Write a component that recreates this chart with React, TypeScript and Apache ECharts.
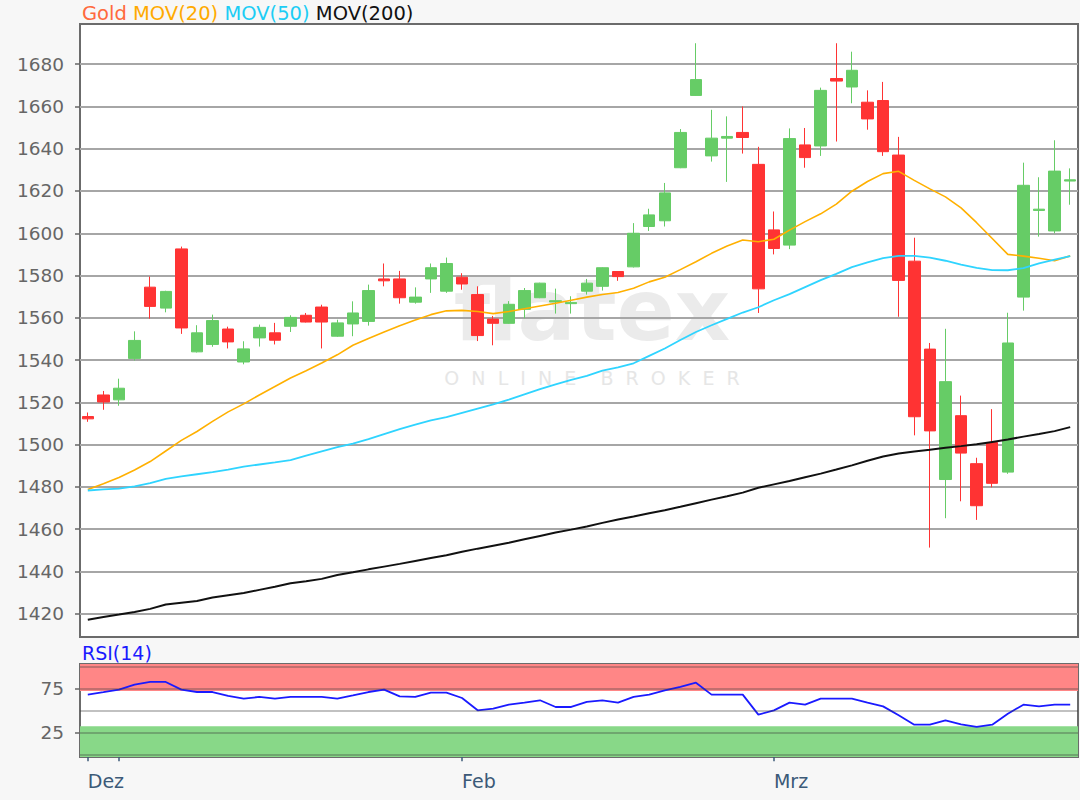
import React, { useEffect, useRef } from "react";
import * as echarts from "echarts";

// ---- data ----
const opens = [1513.3, 1523.5, 1521.2, 1540.8, 1574.5, 1564.6, 1592.6, 1543.9, 1547.4, 1554.7, 1539.1, 1550.5, 1552.9, 1556.0, 1561.2, 1565.1, 1551.3, 1557.1, 1558.3, 1578.4, 1578.4, 1567.4, 1578.4, 1572.6, 1579.2, 1571.0, 1559.4, 1557.4, 1564.0, 1569.5, 1567.5, 1566.7, 1572.6, 1574.9, 1581.9, 1584.1, 1603.2, 1605.9, 1631.0, 1665.2, 1636.6, 1645.0, 1647.7, 1632.6, 1601.6, 1594.4, 1641.8, 1641.3, 1673.2, 1669.2, 1662.0, 1662.8, 1637.0, 1586.8, 1545.2, 1483.5, 1513.7, 1491.0, 1501.0, 1487.0, 1569.8, 1610.8, 1601.1, 1624.7];
const closes = [1512.2, 1520.2, 1526.7, 1549.3, 1565.4, 1572.5, 1555.2, 1552.9, 1558.7, 1548.6, 1545.3, 1555.5, 1549.4, 1560.2, 1558.0, 1558.0, 1557.6, 1562.3, 1572.9, 1577.5, 1569.5, 1569.8, 1583.7, 1585.7, 1576.0, 1551.6, 1557.4, 1566.4, 1572.9, 1576.4, 1568.1, 1567.3, 1576.4, 1583.7, 1579.5, 1600.0, 1608.7, 1619.1, 1647.7, 1672.7, 1645.0, 1645.8, 1645.3, 1573.7, 1592.8, 1644.8, 1635.8, 1667.6, 1672.0, 1677.1, 1654.1, 1638.6, 1577.7, 1513.2, 1506.5, 1529.8, 1496.0, 1471.1, 1481.7, 1548.1, 1622.7, 1611.4, 1629.4, 1625.3];
const lows = [1510.8, 1516.5, 1518.4, 1539.8, 1559.6, 1562.6, 1552.4, 1543.6, 1546.3, 1545.5, 1538.0, 1546.4, 1547.4, 1553.3, 1557.8, 1545.5, 1551.0, 1551.3, 1556.3, 1574.9, 1566.7, 1566.7, 1571.8, 1571.8, 1573.3, 1549.0, 1547.0, 1557.2, 1559.8, 1569.3, 1562.0, 1562.0, 1571.0, 1572.9, 1577.5, 1583.8, 1601.1, 1603.2, 1630.8, 1665.0, 1633.9, 1624.3, 1637.7, 1562.3, 1590.0, 1592.5, 1631.0, 1636.6, 1643.4, 1661.5, 1649.0, 1636.6, 1560.5, 1504.4, 1451.3, 1465.2, 1473.2, 1464.4, 1479.8, 1486.2, 1563.4, 1598.4, 1600.0, 1613.5];
const highs = [1515.2, 1525.4, 1531.2, 1553.6, 1579.5, 1572.8, 1593.7, 1556.5, 1561.5, 1555.8, 1548.9, 1556.8, 1557.6, 1561.2, 1562.3, 1566.2, 1559.1, 1567.8, 1575.7, 1585.7, 1582.2, 1574.4, 1585.7, 1588.5, 1581.1, 1574.9, 1560.9, 1567.9, 1574.1, 1576.6, 1573.8, 1570.2, 1578.4, 1583.9, 1582.1, 1604.8, 1611.6, 1623.8, 1649.3, 1689.9, 1658.4, 1655.3, 1660.0, 1640.9, 1610.3, 1649.6, 1649.8, 1668.9, 1689.9, 1685.9, 1667.6, 1671.6, 1645.6, 1597.9, 1548.1, 1554.8, 1523.2, 1493.8, 1516.8, 1562.4, 1633.4, 1626.5, 1644.0, 1630.7];

const mov20 = [1478.8, 1481.5, 1484.5, 1488.0, 1492.0, 1497.0, 1502.0, 1506.2, 1511.0, 1515.5, 1519.3, 1523.5, 1527.5, 1531.5, 1535.0, 1538.6, 1542.5, 1547.0, 1550.2, 1553.3, 1556.3, 1559.0, 1561.5, 1563.3, 1563.5, 1563.0, 1562.0, 1563.0, 1564.3, 1565.6, 1566.9, 1568.3, 1569.8, 1571.0, 1572.0, 1574.0, 1577.0, 1579.2, 1582.8, 1586.5, 1590.5, 1594.0, 1596.8, 1596.0, 1597.2, 1601.5, 1605.5, 1609.2, 1613.8, 1619.9, 1624.5, 1628.2, 1629.3, 1625.0, 1621.0, 1617.2, 1612.0, 1605.0, 1597.5, 1590.0, 1589.2, 1588.2, 1587.0, 1589.3];
const mov50 = [1478.3, 1478.8, 1479.2, 1480.3, 1481.8, 1483.8, 1485.0, 1486.0, 1487.0, 1488.2, 1489.6, 1490.6, 1491.6, 1492.7, 1494.8, 1496.8, 1498.8, 1500.5, 1502.6, 1505.0, 1507.3, 1509.5, 1511.5, 1513.0, 1515.0, 1517.0, 1519.0, 1521.3, 1523.8, 1526.3, 1528.5, 1530.6, 1532.5, 1535.0, 1536.5, 1538.5, 1542.0, 1545.5, 1549.5, 1553.3, 1556.5, 1559.5, 1562.5, 1565.0, 1568.3, 1571.2, 1574.5, 1577.8, 1580.8, 1584.0, 1586.2, 1588.2, 1589.3, 1589.3, 1588.5, 1587.0, 1585.2, 1583.6, 1582.6, 1582.5, 1583.5, 1585.8, 1587.5, 1589.2];
const mov200 = [1417.2, 1418.5, 1419.6, 1420.8, 1422.3, 1424.4, 1425.2, 1426.0, 1427.7, 1428.8, 1429.8, 1431.3, 1432.8, 1434.4, 1435.4, 1436.5, 1438.3, 1439.6, 1441.0, 1442.3, 1443.6, 1445.0, 1446.4, 1447.7, 1449.3, 1450.8, 1452.2, 1453.6, 1455.2, 1456.8, 1458.4, 1459.8, 1461.3, 1463.0, 1464.6, 1466.0, 1467.5, 1469.0, 1470.6, 1472.3, 1474.0, 1475.6, 1477.3, 1479.6, 1481.2, 1482.8, 1484.6, 1486.3, 1488.2, 1490.2, 1492.4, 1494.4, 1495.8, 1496.8, 1497.6, 1498.5, 1499.3, 1500.2, 1501.3, 1502.4, 1503.8, 1505.0, 1506.4, 1508.3];
const rsi14 = [67.8, 70.6, 73.5, 79.2, 82.2, 82.2, 73.5, 70.8, 70.8, 66.3, 63.3, 65.2, 63.3, 65.2, 65.2, 65.2, 63.3, 67.0, 70.8, 73.5, 65.9, 65.2, 70.1, 70.1, 64.0, 50.0, 51.9, 56.4, 58.7, 61.4, 53.8, 53.8, 59.5, 61.4, 58.7, 65.2, 67.8, 72.7, 76.5, 81.4, 67.8, 67.8, 67.8, 45.1, 50.0, 58.7, 56.4, 63.3, 63.3, 63.3, 58.7, 54.5, 44.3, 33.7, 33.7, 38.6, 34.1, 31.1, 33.7, 46.2, 56.4, 54.5, 56.4, 56.4];

const monthLabels = ["Dez", "Feb", "Mrz"];
const monthLabelIdx = [0, 24, 44];
const extraTickIdx = [2];
const priceTicks = [1420, 1440, 1460, 1480, 1500, 1520, 1540, 1560, 1580, 1600, 1620, 1640, 1660, 1680];
const rsiTicks = [25, 75];
const rsiGrid = [0, 25, 50, 75, 100];

const FONT = '"DejaVu Sans", sans-serif';

export default function App() {
  const ref = useRef<HTMLDivElement>(null);
  useEffect(() => {
    document.body.style.margin = "0";
    const chart = echarts.init(ref.current as HTMLDivElement, null, { renderer: "svg" });
    const cats = opens.map((_, i) => String(i));
    const candleData = opens.map((o, i) => [o, closes[i], lows[i], highs[i]]);
    const tickIdx = monthLabelIdx.concat(extraTickIdx);
    const option: any = {
      animation: false,
      backgroundColor: "#f7f7f7",
      textStyle: { fontFamily: FONT },
      title: [
        {
          left: 82,
          top: 3,
          padding: 0,
          text: "{g|Gold} {a|MOV(20)} {b|MOV(50)} {c|MOV(200)}",
          textStyle: {
            fontFamily: FONT,
            fontSize: 19.5,
            fontWeight: "normal",
            rich: {
              g: { color: "#ff6a3d", fontSize: 19.5, fontFamily: FONT },
              a: { color: "#ffaa00", fontSize: 19.5, fontFamily: FONT },
              b: { color: "#1ccdf5", fontSize: 19.5, fontFamily: FONT },
              c: { color: "#111111", fontSize: 19.5, fontFamily: FONT },
            },
          },
        },
        {
          left: 82,
          top: 643,
          padding: 0,
          text: "RSI(14)",
          textStyle: { fontFamily: FONT, fontSize: 19, fontWeight: "normal", color: "#1a1aff" },
        },
      ],
      graphic: [
        {
          type: "text",
          x: 592,
          y: 310,
          z: 1,
          silent: true,
          style: {
            text: "flatex",
            font: 'bold 86px "DejaVu Sans"',
            fill: "#ebebeb",
            textAlign: "center",
            textVerticalAlign: "middle",
          },
        },
        {
          type: "text",
          x: 592,
          y: 378,
          z: 1,
          silent: true,
          style: {
            text: "O\u00a0\u00a0N\u00a0\u00a0L\u00a0\u00a0I\u00a0\u00a0N\u00a0\u00a0E\u00a0\u00a0\u00a0\u00a0B\u00a0\u00a0R\u00a0\u00a0O\u00a0\u00a0K\u00a0\u00a0E\u00a0\u00a0R",
            font: '19px "DejaVu Sans"',
            fill: "#e6e6e6",
            textAlign: "center",
            textVerticalAlign: "middle",
          },
        },
      ],
      grid: [
        { left: 80, top: 24, width: 998, height: 613, show: true, backgroundColor: "#ffffff", borderColor: "#6b6b6b", borderWidth: 2 },
        { left: 80, top: 664, width: 998, height: 93, show: true, backgroundColor: "#ffffff", borderColor: "#6b6b6b", borderWidth: 2 },
      ],
      xAxis: [
        {
          type: "category",
          gridIndex: 0,
          data: cats,
          boundaryGap: true,
          axisLine: { show: false },
          axisTick: { show: false },
          axisLabel: { show: false },
          splitLine: { show: false },
        },
        {
          type: "category",
          gridIndex: 1,
          data: cats,
          boundaryGap: true,
          axisLine: { show: false },
          axisTick: {
            show: true,
            alignWithLabel: true,
            interval: (i: number) => tickIdx.includes(i),
            length: 7,
            lineStyle: { color: "#3c5a78", width: 1.5 },
          },
          axisLabel: {
            show: true,
            interval: (i: number) => monthLabelIdx.includes(i),
            formatter: (_v: string, i: number) => {
              const k = monthLabelIdx.indexOf(i);
              return k >= 0 ? monthLabels[k] : "";
            },
            align: "left",
            color: "#3c5a78",
            fontSize: 19,
            fontFamily: FONT,
            margin: 14,
          },
          splitLine: { show: false },
        },
      ],
      yAxis: [
        {
          type: "value",
          gridIndex: 0,
          min: 1409,
          max: 1699,
          axisLine: { show: false },
          splitLine: { show: false },
          axisTick: { show: true, length: 5, customValues: priceTicks, lineStyle: { color: "#666", width: 1.5 } },
          axisLabel: {
            customValues: priceTicks,
            formatter: (v: number) => String(v),
            color: "#666",
            fontSize: 18.5,
            fontFamily: FONT,
            margin: 16,
          },
        },
        {
          type: "value",
          gridIndex: 1,
          min: -3,
          max: 102.6,
          axisLine: { show: false },
          splitLine: { show: false },
          axisTick: { show: true, length: 5, customValues: rsiTicks, lineStyle: { color: "#666", width: 1.5 } },
          axisLabel: {
            customValues: rsiTicks,
            formatter: (v: number) => String(v),
            color: "#666",
            fontSize: 18.5,
            fontFamily: FONT,
            margin: 16,
          },
        },
      ],
      series: [
        {
          name: "grid",
          type: "line",
          xAxisIndex: 0,
          yAxisIndex: 0,
          data: [],
          silent: true,
          z: 1,
          markLine: {
            silent: true,
            z: 1,
            symbol: ["none", "none"],
            label: { show: false },
            lineStyle: { color: "#a6a6a6", width: 2, type: "solid" },
            data: priceTicks.map((v) => ({ yAxis: v })),
          },
        },
        {
          name: "Gold",
          type: "candlestick",
          xAxisIndex: 0,
          yAxisIndex: 0,
          data: candleData,
          barWidth: 12,
          z: 2,
          itemStyle: {
            color: "#66cc66",
            color0: "#ff3333",
            borderColor: "#66cc66",
            borderColor0: "#ff3333",
            borderWidth: 1,
          },
        },
        {
          name: "MOV(20)",
          type: "line",
          xAxisIndex: 0,
          yAxisIndex: 0,
          data: mov20,
          showSymbol: false,
          z: 3,
          lineStyle: { color: "#ffb000", width: 1.6 },
        },
        {
          name: "MOV(50)",
          type: "line",
          xAxisIndex: 0,
          yAxisIndex: 0,
          data: mov50,
          showSymbol: false,
          z: 3,
          lineStyle: { color: "#2fd4ff", width: 1.8 },
        },
        {
          name: "MOV(200)",
          type: "line",
          xAxisIndex: 0,
          yAxisIndex: 0,
          data: mov200,
          showSymbol: false,
          z: 3,
          lineStyle: { color: "#111111", width: 2 },
        },
        {
          name: "RSI(14)",
          type: "line",
          xAxisIndex: 1,
          yAxisIndex: 1,
          data: rsi14,
          showSymbol: false,
          z: 3,
          lineStyle: { color: "#1a1aff", width: 1.8 },
          markArea: {
            silent: true,
            data: [
              [{ yAxis: 72, itemStyle: { color: "#ff8686" } }, { yAxis: 102.6 }],
              [{ yAxis: -3, itemStyle: { color: "#88d888" } }, { yAxis: 32 }],
            ],
          },
          markLine: {
            silent: true,
            symbol: ["none", "none"],
            label: { show: false },
            lineStyle: { color: "rgba(60,60,60,0.42)", width: 1.6, type: "solid" },
            data: rsiGrid.map((v) => ({ yAxis: v })),
          },
        },
      ],
    };
    chart.setOption(option);
    return () => chart.dispose();
  }, []);
  return <div ref={ref} style={{ position: "absolute", left: 0, top: 0, width: 1080, height: 800 }} />;
}
